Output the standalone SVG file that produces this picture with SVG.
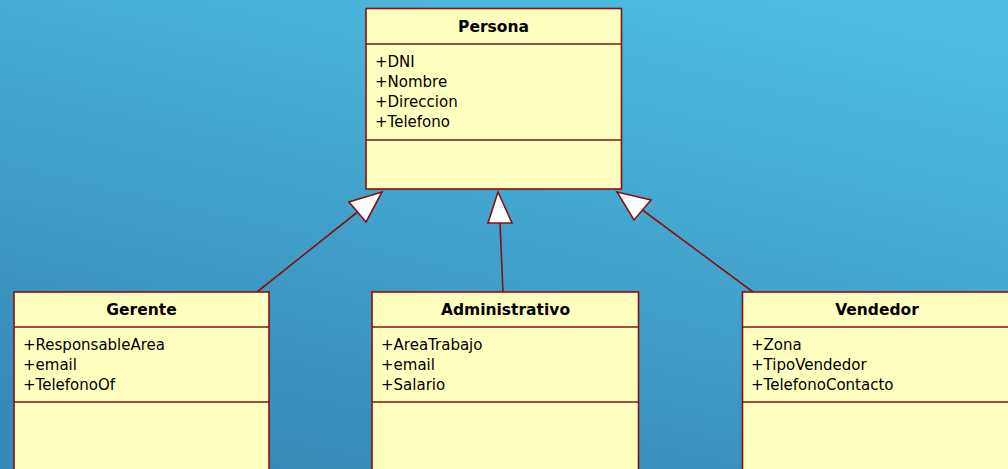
<svg xmlns="http://www.w3.org/2000/svg" width="1008" height="469" viewBox="0 0 1008 469">
<defs>
<linearGradient id="bg" x1="0.75" y1="0" x2="0.25" y2="1">
<stop offset="0" stop-color="#4EBCE2"/>
<stop offset="1" stop-color="#3589B6"/>
</linearGradient>
</defs>
<style>
.box{fill:#FFFFC0;stroke:#8A1010;stroke-width:1.6}
.sep{stroke:#8A1010;stroke-width:1.6}
.title{font-family:"DejaVu Sans",sans-serif;font-weight:bold;font-size:15.5px;fill:#000;text-anchor:middle}
.attr{font-family:"DejaVu Sans",sans-serif;font-size:15px;fill:#000}
.edge{stroke:#8A1010;stroke-width:1.6;fill:none}
.head{fill:#FFFFFF;stroke:#8A1010;stroke-width:1.6;stroke-linejoin:miter}
</style>
<rect x="0" y="0" width="1008" height="469" fill="url(#bg)"/>
<g id="connectors">
<line class="edge" x1="257" y1="292" x2="357.5" y2="212"/>
<polygon class="head" points="382,192 349,202 366,222"/>
<line class="edge" x1="503" y1="292" x2="500" y2="223"/>
<polygon class="head" points="498,192 488,223 512,223"/>
<line class="edge" x1="753" y1="292" x2="642.5" y2="210"/>
<polygon class="head" points="617,192 651,200 634,220"/>
</g>
<g id="persona">
<rect class="box" x="366" y="8.5" width="255.5" height="180.5"/>
<line class="sep" x1="366" y1="44" x2="621.5" y2="44"/>
<line class="sep" x1="366" y1="140" x2="621.5" y2="140"/>
<text class="title" x="493.5" y="32">Persona</text>
<text class="attr" x="375" y="67">+DNI</text>
<text class="attr" x="375" y="87">+Nombre</text>
<text class="attr" x="375" y="107">+Direccion</text>
<text class="attr" x="375" y="127">+Telefono</text>
</g>
<g id="gerente">
<rect class="box" x="14" y="292" width="255" height="190"/>
<line class="sep" x1="14" y1="327" x2="269" y2="327"/>
<line class="sep" x1="14" y1="402" x2="269" y2="402"/>
<text class="title" x="141.5" y="315">Gerente</text>
<text class="attr" x="23" y="350">+ResponsableArea</text>
<text class="attr" x="23" y="370">+email</text>
<text class="attr" x="23" y="390">+TelefonoOf</text>
</g>
<g id="administrativo">
<rect class="box" x="372" y="292" width="266.5" height="190"/>
<line class="sep" x1="372" y1="327" x2="638.5" y2="327"/>
<line class="sep" x1="372" y1="402" x2="638.5" y2="402"/>
<text class="title" x="505.5" y="315">Administrativo</text>
<text class="attr" x="381" y="350">+AreaTrabajo</text>
<text class="attr" x="381" y="370">+email</text>
<text class="attr" x="381" y="390">+Salario</text>
</g>
<g id="vendedor">
<rect class="box" x="742.5" y="292" width="280" height="190"/>
<line class="sep" x1="742.5" y1="327" x2="1010" y2="327"/>
<line class="sep" x1="742.5" y1="402" x2="1010" y2="402"/>
<text class="title" x="877" y="315">Vendedor</text>
<text class="attr" x="751" y="350">+Zona</text>
<text class="attr" x="751" y="370">+TipoVendedor</text>
<text class="attr" x="751" y="390">+TelefonoContacto</text>
</g>
</svg>
